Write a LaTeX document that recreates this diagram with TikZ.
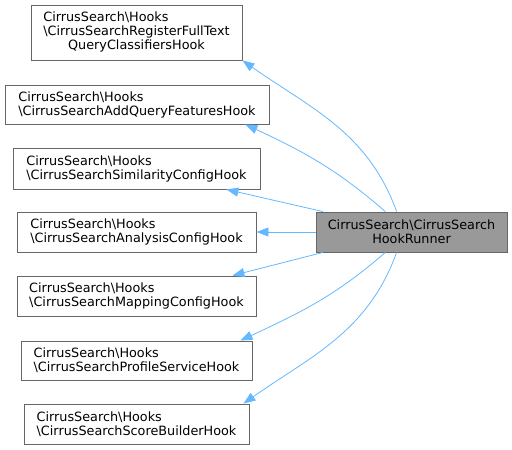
\documentclass[tikz,border=0pt]{standalone}
\usepackage{fontspec}
\setmainfont{DejaVu Sans}
\usetikzlibrary{arrows.meta}
\definecolor{edgeblue}{HTML}{63B8FF}
\definecolor{boxgray}{HTML}{666666}
\definecolor{mainfill}{HTML}{999999}
\newcommand{\bs}{\textbackslash}
\begin{document}
\begin{tikzpicture}[x=1pt,y=1pt,
    hookbox/.style={draw=boxgray,line width=0.9pt,align=left,inner sep=0pt,font=\fontsize{12.8}{14}\selectfont},
    edge/.style={draw=edgeblue,line width=0.8pt,-{Triangle[length=12pt,width=9pt]}}]
    \useasboundingbox (0,0) rectangle (512,450);
    \node[hookbox,minimum width=211pt,minimum height=55pt] (h1) at (136.5,417.5) {\begin{tabular}{@{}l@{}}CirrusSearch\bs Hooks\\\bs CirrusSearchRegisterFullText\\\multicolumn{1}{@{}c@{}}{QueryClassifiersHook}\end{tabular}};
    \node[hookbox,minimum width=264pt,minimum height=39pt] (h2) at (137,345.5) {CirrusSearch\bs Hooks\\\bs CirrusSearchAddQueryFeaturesHook};
    \node[hookbox,minimum width=247pt,minimum height=41pt] (h3) at (136.5,281.5) {CirrusSearch\bs Hooks\\\bs CirrusSearchSimilarityConfigHook};
    \node[hookbox,minimum width=239pt,minimum height=40pt] (h4) at (136.5,218) {CirrusSearch\bs Hooks\\\bs CirrusSearchAnalysisConfigHook};
    \node[hookbox,minimum width=239pt,minimum height=40pt] (h5) at (136.5,154) {CirrusSearch\bs Hooks\\\bs CirrusSearchMappingConfigHook};
    \node[hookbox,minimum width=231pt,minimum height=39pt] (h6) at (136.5,89.5) {CirrusSearch\bs Hooks\\\bs CirrusSearchProfileServiceHook};
    \node[hookbox,minimum width=225pt,minimum height=40pt] (h7) at (136.5,26) {CirrusSearch\bs Hooks\\\bs CirrusSearchScoreBuilderHook};
    \node[hookbox,fill=mainfill,align=center,minimum width=191pt,minimum height=40pt] (runner) at (411.5,218) {CirrusSearch\bs CirrusSearch\\HookRunner};
    % edges from the runner
    \draw[edge] (runner.126) to[out=110,in=-35] (h1.south east);
    \draw[edge] (runner.142) to[out=139,in=-25] ([xshift=-24pt]h2.south east);
    \draw[edge] (runner.167) -- ([xshift=-34pt]h3.south east);
    \draw[edge] (runner.west) -- (h4.east);
    \draw[edge] (runner.-167) -- ([xshift=-24pt]h5.north east);
    \draw[edge] (runner.-142) to[out=-139,in=25] ([xshift=-12pt]h6.north east);
    \draw[edge] (runner.-126) to[out=-110,in=35] ([xshift=-6pt]h7.north east);
\end{tikzpicture}
\end{document}
